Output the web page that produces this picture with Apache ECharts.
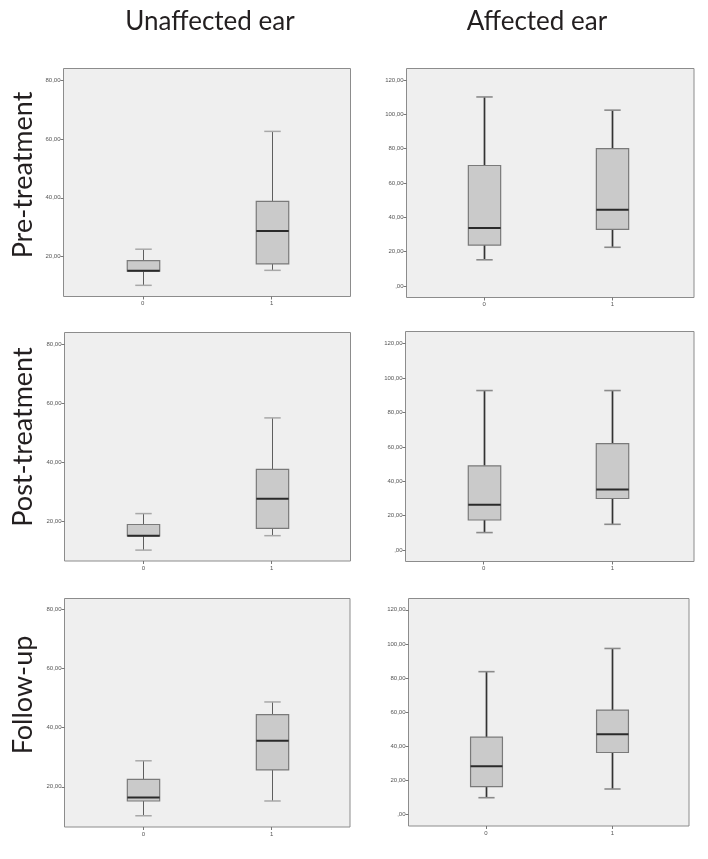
<!DOCTYPE html>
<html><head><meta charset="utf-8">
<script src="https://cdn.jsdelivr.net/npm/echarts@6/dist/echarts.min.js"></script>
<style>html,body{margin:0;padding:0;background:#fff}#c{width:708px;height:859px}</style>
</head><body><div id="c"></div>
<script>
// ---- data ----
const columnTitles = ['Unaffected ear', 'Affected ear'];
const rowTitles = ['Pre-treatment', 'Post-treatment', 'Follow-up'];
const groups = [0, 1];
// each group: [lower whisker, Q1, median, Q3, upper whisker]
const unaffectedPre    = [[10.2, 15.0, 15.2, 18.6, 22.5], [15.3, 17.5, 28.7, 38.8, 62.6]];
const affectedPre      = [[15.2, 23.8, 33.8, 70.2, 110.2], [22.5, 33.0, 44.4, 80.0, 102.5]];
const unaffectedPost   = [[10.1, 14.9, 15.0, 18.8, 22.5], [15.0, 17.5, 27.5, 37.5, 55.0]];
const affectedPost     = [[10.2, 17.5, 26.4, 49.0, 92.7], [15.0, 30.0, 35.2, 61.9, 92.7]];
const unaffectedFollow = [[10.2, 15.2, 16.4, 22.5, 28.8], [15.2, 25.7, 35.6, 44.4, 48.7]];
const affectedFollow   = [[9.8, 16.3, 28.2, 45.3, 83.7], [14.9, 36.3, 47.0, 61.2, 97.3]];
const unaffectedTicks = [20, 40, 60, 80];
const affectedTicks = [0, 20, 40, 60, 80, 100, 120];

// ---- layout ----
const thin = {stem: '#5e5e5e', stemW: 1, cap: '#a8a8a8', capW: 1.5};
const thick = {stem: '#333333', stemW: 1.7, cap: '#8a8a8a', capW: 1.6};
const panels = [
  {data: unaffectedPre, ticks: unaffectedTicks, grid: {left: 63.5, top: 68.5, width: 287, height: 228}, y: [6.4, 84], x: [-0.615, 1.612], st: thin},
  {data: affectedPre, ticks: affectedTicks, grid: {left: 406.5, top: 68.5, width: 287.5, height: 229}, y: [-6.8, 126.8], x: [-0.606, 1.637], st: thick},
  {data: unaffectedPost, ticks: unaffectedTicks, grid: {left: 64.5, top: 332.5, width: 286, height: 228.5}, y: [6.4, 84], x: [-0.615, 1.615], st: thin},
  {data: affectedPost, ticks: affectedTicks, grid: {left: 405.5, top: 331.5, width: 288.5, height: 230}, y: [-6.6, 127], x: [-0.607, 1.633], st: thick},
  {data: unaffectedFollow, ticks: unaffectedTicks, grid: {left: 64.5, top: 598.5, width: 285.5, height: 228.5}, y: [6.4, 83.7], x: [-0.615, 1.61], st: thin},
  {data: affectedFollow, ticks: affectedTicks, grid: {left: 408.5, top: 598.5, width: 280.5, height: 227.5}, y: [-6.8, 126.6], x: [-0.611, 1.606], st: thick}
];

function makeRender(st) {
  return function (params, api) {
    const x = api.value(0);
    const lo = api.coord([x, api.value(1)]);
    const q1 = api.coord([x, api.value(2)]);
    const md = api.coord([x, api.value(3)]);
    const q3 = api.coord([x, api.value(4)]);
    const hi = api.coord([x, api.value(5)]);
    const unit = api.size([1, 0])[0];
    const bw = unit * 0.252;
    const cw = unit * 0.128;
    const cx = Math.round(lo[0]) + 0.5;
    return {
      type: 'group',
      children: [
        {type: 'line', shape: {x1: cx, y1: hi[1], x2: cx, y2: q3[1]}, style: {stroke: st.stem, lineWidth: st.stemW}},
        {type: 'line', shape: {x1: cx, y1: q1[1], x2: cx, y2: lo[1]}, style: {stroke: st.stem, lineWidth: st.stemW}},
        {type: 'line', shape: {x1: cx - cw / 2, y1: hi[1], x2: cx + cw / 2, y2: hi[1]}, style: {stroke: st.cap, lineWidth: st.capW}},
        {type: 'line', shape: {x1: cx - cw / 2, y1: lo[1], x2: cx + cw / 2, y2: lo[1]}, style: {stroke: st.cap, lineWidth: st.capW}},
        {type: 'rect', shape: {x: cx - bw / 2, y: q3[1], width: bw, height: q1[1] - q3[1]}, style: {fill: '#cacaca', stroke: '#7a7a7a', lineWidth: 1.2}},
        {type: 'line', shape: {x1: cx - bw / 2, y1: md[1], x2: cx + bw / 2, y2: md[1]}, style: {stroke: '#2a2a2a', lineWidth: 2}}
      ]
    };
  };
}

const grids = [], xAxes = [], yAxes = [], series = [];
panels.forEach((p, i) => {
  grids.push(Object.assign({show: true, backgroundColor: '#efefef', borderColor: '#8c8c8c', borderWidth: 1}, p.grid));
  xAxes.push({
    type: 'value', gridIndex: i, min: p.x[0], max: p.x[1], position: 'bottom',
    axisLine: {show: false, onZero: false}, splitLine: {show: false},
    axisTick: {show: true, customValues: groups, length: 3, lineStyle: {color: '#777', width: 1}},
    axisLabel: {customValues: groups, fontSize: 6, color: '#555', margin: 4, fontFamily: 'Liberation Sans'}
  });
  yAxes.push({
    type: 'value', gridIndex: i, min: p.y[0], max: p.y[1], position: 'left',
    axisLine: {show: false, onZero: false}, splitLine: {show: false},
    axisTick: {show: true, customValues: p.ticks, length: 3, lineStyle: {color: '#777', width: 1}},
    axisLabel: {customValues: p.ticks, fontSize: 6, color: '#555', margin: 3, fontFamily: 'Liberation Sans',
      formatter: v => (v === 0 ? '' : String(v)) + ',00'}
  });
  series.push({
    type: 'custom', xAxisIndex: i, yAxisIndex: i,
    renderItem: makeRender(p.st),
    encode: {x: 0, y: [1, 2, 3, 4, 5]},
    data: p.data.map((v, k) => [groups[k]].concat(v)),
    animation: false, silent: true
  });
});

const colFont = '26px Lato';
const rowFont = '27px Lato';
const graphics = [
  {type: 'text', x: 210, y: 22, style: {text: columnTitles[0], font: colFont, fill: '#231f20', align: 'center', verticalAlign: 'middle', textAlign: 'center', textVerticalAlign: 'middle'}},
  {type: 'text', x: 537, y: 22, style: {text: columnTitles[1], font: colFont, fill: '#231f20', align: 'center', verticalAlign: 'middle', textAlign: 'center', textVerticalAlign: 'middle'}}
];
[175, 437, 695].forEach((cy, r) => {
  graphics.push({type: 'text', x: 23, y: cy, rotation: Math.PI / 2,
    style: {text: rowTitles[r], font: rowFont, fill: '#231f20', align: 'center', verticalAlign: 'middle', textAlign: 'center', textVerticalAlign: 'middle'}});
});

const chart = echarts.init(document.getElementById('c'), null, {renderer: 'canvas'});
chart.setOption({
  animation: false,
  backgroundColor: '#ffffff',
  grid: grids, xAxis: xAxes, yAxis: yAxes, series: series,
  graphic: graphics
});
</script></body></html>
